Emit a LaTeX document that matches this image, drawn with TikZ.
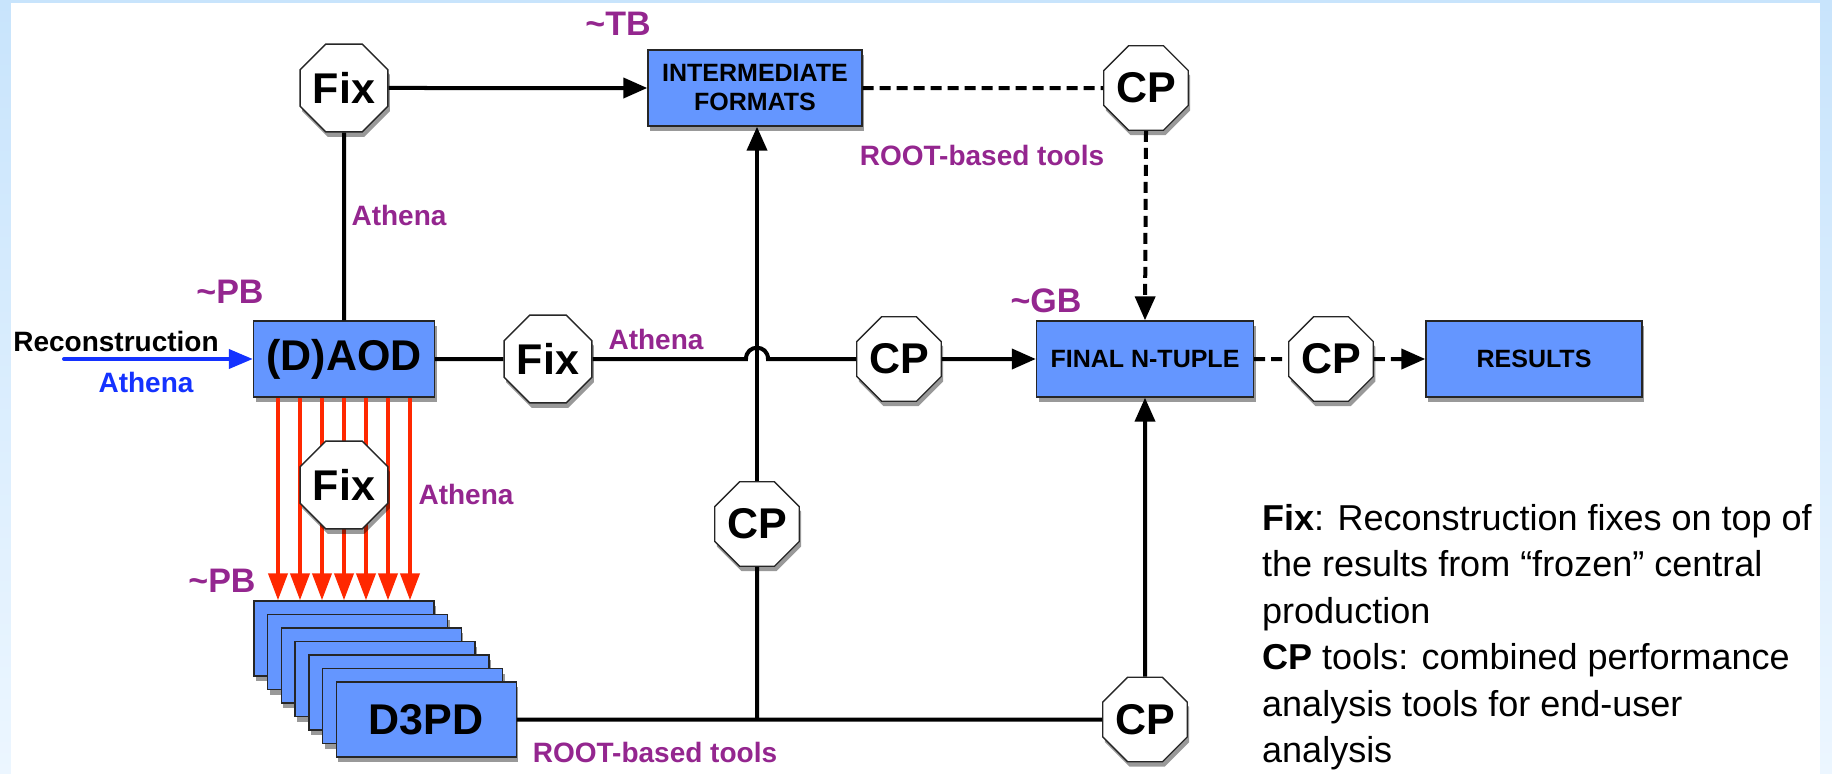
\documentclass[tikz,border=0pt]{standalone}
\usepackage{fontspec}
\setmainfont{Liberation Sans}
\usetikzlibrary{shapes.geometric,shadows,arrows.meta}
\definecolor{boxblue}{RGB}{100,150,255}
\definecolor{purp}{RGB}{148,38,143}
\definecolor{recblue}{RGB}{20,50,255}
\definecolor{redarr}{RGB}{255,40,0}
\definecolor{bgtop}{RGB}{200,228,252}
\definecolor{bgbot}{RGB}{236,246,255}
\begin{document}
\begin{tikzpicture}[x=1pt,y=-1pt,
  shad/.style={drop shadow={shadow xshift=2pt,shadow yshift=-5pt,opacity=0.4,fill=black}},
  box/.style={rectangle, draw=black!85, line width=1.4pt, fill=boxblue, minimum width=#1,
    minimum height=76pt, inner sep=0pt, shad, align=center,
    font=\fontsize{25}{29}\selectfont\bfseries},
  oct/.style={regular polygon, regular polygon sides=8, minimum size=89pt, inner sep=0pt,
    draw=black!85, line width=1.4pt, fill=white, shad, font=\fontsize{43}{43}\selectfont\bfseries},
  plab/.style={text=purp, inner sep=0pt, font=\fontsize{28}{30}\selectfont\bfseries},
  slab/.style={text=purp, inner sep=0pt, font=\fontsize{34}{36}\selectfont\bfseries},
  conn/.style={line width=4pt, black},
  arr/.style={conn, -{Triangle[length=24pt,width=20pt]}},
  dconn/.style={conn, dash pattern=on 11pt off 6pt},
  darr/.style={dconn, -{Triangle[length=24pt,width=20pt]}},
  redarrow/.style={line width=4pt, redarr, -{Triangle[length=27pt,width=19pt]}},
  bluearr/.style={line width=4pt, recblue, line cap=round, -{Triangle[length=24pt,width=19pt]}}
]
\useasboundingbox (0,0) rectangle (1832,774);
\fill[top color=bgtop, bottom color=bgbot] (0,0) rectangle (1832,774);
\fill[white] (11,3) rectangle (1820,774);

% main nodes
\node[oct] (fix1) at (344,88) {Fix};
\node[box=214pt] (inter) at (755,88) {INTERMEDIATE\\FORMATS};
\node[oct] (cp1) at (1146,88) {CP};
\node[box=181pt, font=\fontsize{43}{43}\selectfont\bfseries] (aod) at (344,359) {(D)AOD};
\node[oct] (fix2) at (548,359) {Fix};
\node[oct] (cp2) at (899,359) {CP};
\node[box=217pt] (final) at (1145,359) {FINAL N-TUPLE};
\node[oct] (cp3) at (1331,359) {CP};
\node[box=216pt] (results) at (1534,359) {RESULTS};

% D3PD stack
\foreach \i in {0,...,5} {
  \node[box=180pt, minimum height=75pt] (d\i) at (344+13.7*\i, 638.5+13.5*\i) {};
}
\node[box=180pt, minimum height=75pt, font=\fontsize{43}{43}\selectfont\bfseries] (d6) at (426.2,719.5) {D3PD};

% red arrows
\foreach \dx in {-66,-44,-22,0,22,44,66} {
  \draw[redarrow] ([xshift=\dx pt]aod.south) -- ([xshift=\dx pt]d0.north);
}
\node[oct] (fix3) at (344,485) {Fix};
\node[oct] (cp4) at (757,524) {CP};
\node[oct] (cp5) at (1145,719.5) {CP};

% connectors
\draw[conn] (aod.north) -- (fix1.south);
\draw[arr] (fix1.east) -- (inter.west);
\draw[dconn] (inter.east) -- (cp1.west);
\draw[darr] (cp1.south) -- (final.north);
\draw[conn] (aod.east) -- (fix2.west);
\coordinate (humpL) at (746,359);
\coordinate (humpR) at (768,359);
\draw[conn] (fix2.east) -- (humpL) .. controls (746,344) and (768,344) .. (humpR) -- (cp2.west);
\draw[arr] (cp2.east) -- (final.west);
\draw[dconn] (final.east) -- (cp3.west);
\draw[darr] (cp3.east) -- (results.west);
\coordinate (recstart) at (64,359);
\draw[bluearr] (recstart) -- (aod.west);
\coordinate (junction) at (757,719.5);
\draw[conn] (d6.east) -- (junction) -- (cp5.west);
\draw[conn] (junction) -- (cp4.south);
\draw[arr] (cp4.north) -- (cp4.north |- inter.south);
\draw[arr] (cp5.north) -- (final.south);

% labels
\node[slab] (tb) at (618,24) {\textasciitilde TB};
\node[slab] (pb1) at (230,292) {\textasciitilde PB};
\node[slab] (gb) at (1046,301) {\textasciitilde GB};
\node[slab] (pb2) at (222,581) {\textasciitilde PB};
\node[plab] (ath1) at (399,215) {Athena};
\node[plab] (ath2) at (656,339) {Athena};
\node[plab] (ath3) at (466,494) {Athena};
\node[plab] (root1) at (982,155) {ROOT-based tools};
\node[plab] (root2) at (655,752) {ROOT-based tools};
\node[inner sep=0pt, font=\fontsize{28}{30}\selectfont\bfseries] (rec) at (116,341) {Reconstruction};
\node[inner sep=0pt, text=recblue, font=\fontsize{28}{30}\selectfont\bfseries] (ath0) at (146,382) {Athena};

% legend
\node[anchor=north west, inner sep=0pt, align=left, font=\fontsize{36}{46.5}\selectfont] (legend) at (1262,504)
 {\textbf{Fix}: Reconstruction fixes on top of\\
  the results from “frozen” central\\
  production\\
  \textbf{CP} tools: combined performance\\
  analysis tools for end-user\\
  analysis};
\end{tikzpicture}
\end{document}
